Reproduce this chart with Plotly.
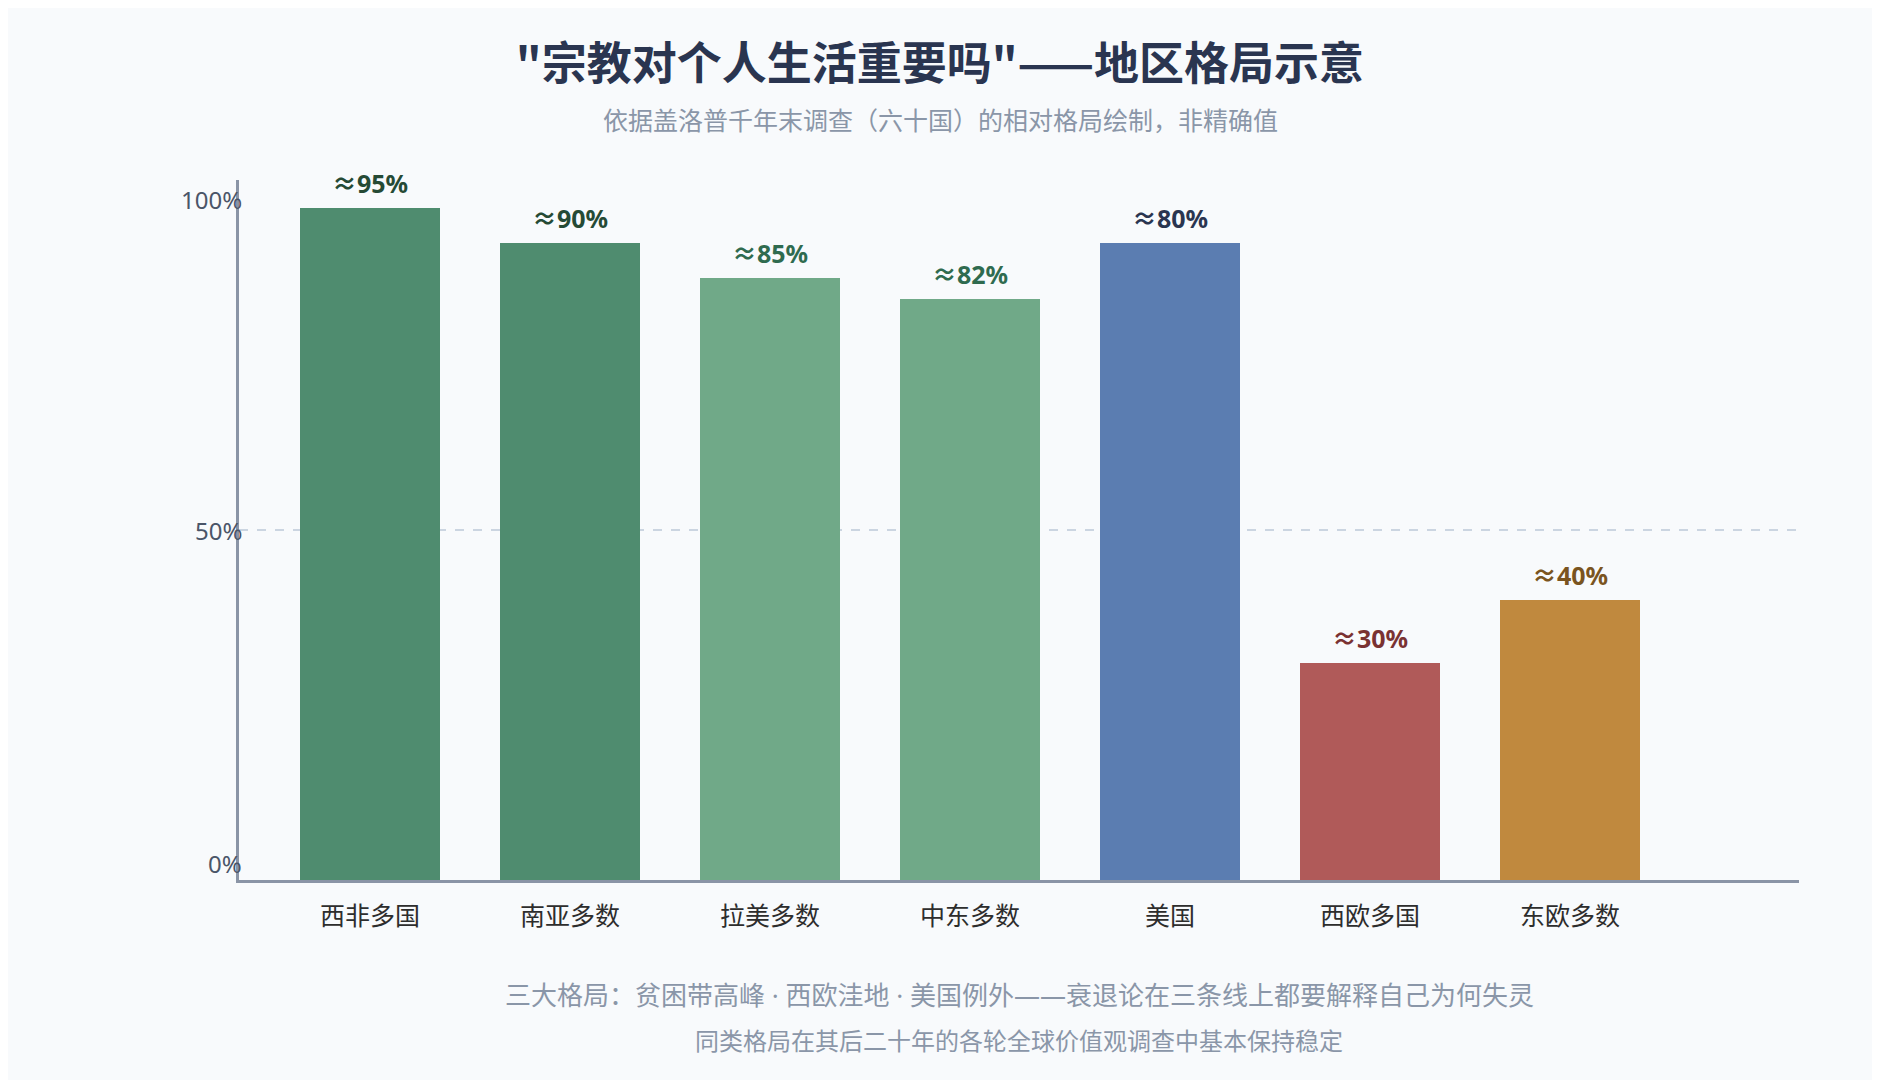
import plotly.graph_objects as go

# data (bar heights vs. the "≈" labels printed above them)
regions = ["西非多国", "南亚多数", "拉美多数", "中东多数", "美国", "西欧多国", "东欧多数"]
bar_values = [96, 91, 86, 83, 91, 31, 40]
bar_labels = ["≈95%", "≈90%", "≈85%", "≈82%", "≈80%", "≈30%", "≈40%"]
bar_colors = ["#4f8c6f", "#4f8c6f", "#70a988", "#70a988", "#5b7db1", "#b05a59", "#c0893e"]
label_colors = ["#254a35", "#254a35", "#2f6b4f", "#2f6b4f", "#2a3550", "#7a3232", "#7a5420"]
y_ticks = [0, 50, 100]
y_tick_text = ["0%", "50%", "100%"]

TITLE = '"宗教对个人生活重要吗"——地区格局示意'
SUBTITLE = "依据盖洛普千年末调查（六十国）的相对格局绘制，非精确值"
NOTE_1 = "三大格局：贫困带高峰 · 西欧洼地 · 美国例外——衰退论在三条线上都要解释自己为何失灵"
NOTE_2 = "同类格局在其后二十年的各轮全球价值观调查中基本保持稳定"

FONT = "Noto Sans, Noto Sans CJK SC"
CJK_FONT = "Noto Sans CJK SC"
BG = "#f8fafc"
AXIS = "#8a94a6"

# plot box: 1560 x 700 px, page offset of the browser body taken into account
L, T, PW, PH = 231, 172, 1560, 700
W, H = 1880, 1080
CANVAS_MID = (W / 2 - 8 - L) / PW  # horizontal page centre in paper units

fig = go.Figure()
fig.add_trace(
    go.Bar(
        x=regions,
        y=bar_values,
        width=0.7,
        marker=dict(color=bar_colors, line_width=0),
        hoverinfo="skip",
        showlegend=False,
    )
)

# value labels above each bar
for region, value, label, color in zip(regions, bar_values, bar_labels, label_colors):
    fig.add_annotation(
        x=region,
        y=value,
        text=f"<b>{label}</b>",
        showarrow=False,
        yanchor="bottom",
        yshift=6,
        font=dict(family=FONT, size=25, color=color),
    )

# y tick labels (top one sits a little below its line, bottom one a little above)
for val, txt, shift in zip(y_ticks, y_tick_text, [17, 0, -19]):
    fig.add_annotation(
        x=0,
        xref="paper",
        y=val,
        text=txt,
        showarrow=False,
        xanchor="right",
        xshift=5,
        yshift=shift,
        font=dict(family=FONT, size=24, color="#4a5568"),
    )

fig.add_annotation(
    x=CANVAS_MID, xref="paper", y=1.0857, yref="paper", text=SUBTITLE, showarrow=False,
    xanchor="center", yanchor="middle", font=dict(family=FONT, size=25, color="#8a96a8"),
)
fig.add_annotation(
    x=0.5, xref="paper", y=-0.164, yref="paper", text=NOTE_1, showarrow=False,
    xanchor="center", yanchor="middle", font=dict(family=FONT, size=26, color="#8a96a8"),
)
fig.add_annotation(
    x=0.5, xref="paper", y=-0.229, yref="paper", text=NOTE_2, showarrow=False,
    xanchor="center", yanchor="middle", font=dict(family=FONT, size=24, color="#8a96a8"),
)

fig.update_layout(
    width=W,
    height=H,
    paper_bgcolor=BG,
    plot_bgcolor=BG,
    margin=dict(l=L, r=W - L - PW, t=T, b=H - T - PH),
    title=dict(
        text=f"<b>{TITLE}</b>",
        x=(W / 2 - 8) / W,
        xanchor="center",
        y=1 - 56 / H,
        yanchor="middle",
        font=dict(family=CJK_FONT, size=45, color="#2a3550"),
    ),
    xaxis=dict(
        range=[-0.655, 7.145],
        showgrid=False,
        zeroline=False,
        showline=True,
        linecolor=AXIS,
        linewidth=3,
        ticks="outside",
        ticklen=12,
        tickcolor="rgba(0,0,0,0)",
        tickfont=dict(family=FONT, size=25, color="#2d2d2d"),
    ),
    yaxis=dict(
        range=[0, 100],
        tickvals=[50],
        showticklabels=False,
        showgrid=True,
        gridcolor="#cbd5e1",
        gridwidth=1.5,
        griddash="dash",
        zeroline=False,
        showline=True,
        linecolor=AXIS,
        linewidth=3,
    ),
    bargap=0.3,
)

fig.write_html("out.html")
